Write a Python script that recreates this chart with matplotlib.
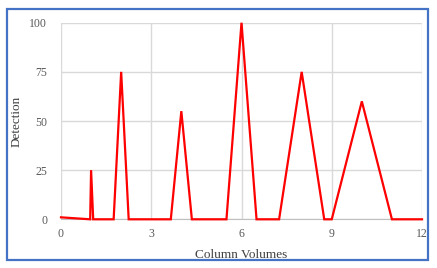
import matplotlib.pyplot as plt
from matplotlib.patches import Rectangle

# chromatogram trace
column_volumes = [0, 0.97, 1.0, 1.07, 1.75, 2.0, 2.25, 3.65, 4.0, 4.35,
                  5.5, 6.0, 6.5, 7.25, 8.0, 8.75, 9.0, 10.0, 11.0, 12.0]
detection = [1, 0, 25, 0, 0, 75, 0, 0, 55, 0,
             0, 100, 0, 0, 75, 0, 0, 60, 0, 0]

x_ticks = [0, 3, 6, 9, 12]
y_ticks = [0, 25, 50, 75, 100]

plt.rcParams['font.family'] = ['Liberation Serif', 'DejaVu Serif']

fig = plt.figure(figsize=(4.37, 2.68), dpi=100)
ax = fig.add_axes([61 / 437, 1 - 219.3 / 268, 361 / 437, 196.6 / 268])

# blue frame around the chart
fig.patches.append(Rectangle((6.5 / 437, 1 - 259.5 / 268), 421.5 / 437, 250.5 / 268,
                             transform=fig.transFigure, fill=False,
                             edgecolor='#4472C4', linewidth=1.6))

ax.plot(column_volumes, detection, color='#FF0000', linewidth=1.6,
        solid_joinstyle='miter', clip_on=False, zorder=3)

ax.set_xlim(0, 12)
ax.set_ylim(0, 100)
ax.set_xticks(x_ticks)
ax.set_yticks(y_ticks)
ax.grid(True, color='#D9D9D9', linewidth=1)
for side in ['left', 'top', 'right']:
    ax.spines[side].set_visible(False)
ax.spines['bottom'].set_color('#BFBFBF')
ax.tick_params(length=0, labelsize=8.5, labelcolor='#595959')
ax.tick_params(axis='x', pad=6)
ax.tick_params(axis='y', pad=10)

ax.set_xlabel('Column Volumes', fontsize=9.5, color='#404040', labelpad=7)
ax.set_ylabel('Detection', fontsize=9.5, color='#404040', labelpad=5)

plt.savefig('out.png', dpi=100)
